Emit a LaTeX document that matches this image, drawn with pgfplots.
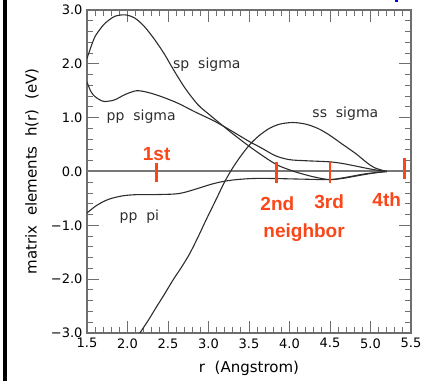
\documentclass[border=0pt]{standalone}
\usepackage{pgfplots}
\pgfplotsset{compat=1.18}
\usepackage{fontspec}
\setmainfont{DejaVu Sans}
\newfontfamily\labfont{Liberation Sans}
\definecolor{nbr}{RGB}{250,70,25}
\definecolor{curve}{RGB}{45,45,45}
\definecolor{frame}{RGB}{110,110,110}
\definecolor{zeroline}{RGB}{120,120,120}

\begin{document}
\begin{tikzpicture}
\useasboundingbox (0,0) rectangle (421bp,381bp);
\fill[black] (3bp,0) rectangle (6.5bp,381bp);
\fill[blue] (395bp,379bp) rectangle (398bp,381bp);
\begin{axis}[
  at={(87bp,48bp)}, anchor=south west,
  scale only axis, width=324bp, height=323bp,
  xmin=1.5, xmax=5.5, ymin=-3, ymax=3,
  xtick={1.5,2.0,2.5,3.0,3.5,4.0,4.5,5.0,5.5},
  xticklabels={1.5,2.0,2.5,3.0,3.5,4.0,4.5,5.0,5.5},
  ytick={-3,-2,-1,0,1,2,3},
  yticklabels={−3.0,−2.0,−1.0,0.0,1.0,2.0,3.0},
  minor x tick num=4, minor y tick num=4,
  tick align=inside,
  major tick length=12bp, minor tick length=6bp,
  tick style={frame, line width=1bp},
  axis line style={frame, line width=1.2bp},
  ticklabel style={font=\fontsize{13bp}{15bp}\selectfont},
  xticklabel style={yshift=-2bp},
  yticklabel style={xshift=-1bp},
  label style={font=\fontsize{15bp}{17bp}\selectfont},
  xlabel={r\ \ (Angstrom)},
  ylabel={matrix\ \ elements\ \ h(r)\ \ (eV)},
  xlabel style={at={(axis description cs:0.5,-0.108)}, anchor=center},
  ylabel style={at={(axis description cs:-0.170,0.5)}, anchor=center},
  clip=true,
]
% zero line
\addplot[zeroline, line width=2bp] coordinates {(1.5,0) (5.5,0)};

% sp sigma
\addplot[curve, line width=1.1bp, smooth] coordinates {
(1.50,2.10) (1.55,2.32) (1.60,2.51) (1.66,2.64) (1.72,2.75) (1.84,2.88)
(1.97,2.91) (2.09,2.85) (2.21,2.69) (2.34,2.44) (2.46,2.17) (2.56,1.91)
(2.71,1.55) (2.87,1.24) (3.00,1.07) (3.12,0.92) (3.30,0.70) (3.51,0.46)
(3.70,0.26) (3.85,0.12) (4.00,0.03) (4.10,-0.02) (4.30,-0.10) (4.49,-0.15)
(4.65,-0.13) (4.80,-0.09) (4.95,-0.05) (5.08,-0.02) (5.20,0.00)};

% pp sigma
\addplot[curve, line width=1.1bp, smooth] coordinates {
(1.50,1.66) (1.55,1.48) (1.60,1.39) (1.66,1.33) (1.72,1.30) (1.84,1.33)
(1.97,1.43) (2.11,1.50) (2.25,1.47) (2.42,1.39) (2.62,1.27) (2.83,1.11)
(3.08,0.93) (3.30,0.74) (3.50,0.56) (3.65,0.44) (3.83,0.29) (4.00,0.22)
(4.20,0.20) (4.49,0.18) (4.65,0.15) (4.82,0.10) (5.02,0.04) (5.20,0.00)};

% ss sigma
\addplot[curve, line width=1.1bp, smooth] coordinates {
(2.13,-3.05) (2.25,-2.78) (2.36,-2.51) (2.46,-2.27) (2.56,-2.02) (2.67,-1.77)
(2.77,-1.52) (2.87,-1.22) (2.97,-0.90) (3.10,-0.50) (3.20,-0.19) (3.30,0.07)
(3.40,0.29) (3.51,0.50) (3.62,0.66) (3.75,0.80) (3.88,0.88) (4.04,0.91)
(4.20,0.88) (4.35,0.80) (4.49,0.68) (4.65,0.51) (4.82,0.33) (4.95,0.17)
(5.05,0.07) (5.20,0.00)};

% pp pi
\addplot[curve, line width=1.1bp, smooth] coordinates {
(1.50,-0.77) (1.60,-0.65) (1.70,-0.56) (1.80,-0.50) (1.95,-0.45) (2.11,-0.43)
(2.30,-0.43) (2.56,-0.42) (2.67,-0.40) (2.77,-0.36) (2.90,-0.30) (3.05,-0.23)
(3.20,-0.18) (3.35,-0.15) (3.55,-0.13) (3.80,-0.13) (4.10,-0.14) (4.49,-0.15)
(4.65,-0.12) (4.80,-0.08) (4.95,-0.04) (5.20,0.00)};

% neighbour markers
\addplot[nbr, line width=2.6bp] coordinates {(2.36,-0.20) (2.36,0.16)};
\addplot[nbr, line width=2.6bp] coordinates {(3.84,-0.21) (3.84,0.18)};
\addplot[nbr, line width=2.6bp] coordinates {(4.50,-0.21) (4.50,0.18)};
\addplot[nbr, line width=2.6bp] coordinates {(5.42,-0.14) (5.42,0.25)};

% curve labels
\node[anchor=west, text=curve, font=\fontsize{14bp}{16bp}\selectfont] at (axis cs:2.52,1.99) {sp\ \ sigma};
\node[anchor=west, text=curve, font=\fontsize{14bp}{16bp}\selectfont] at (axis cs:1.70,1.02) {pp\ \ sigma};
\node[anchor=west, text=curve, font=\fontsize{14bp}{16bp}\selectfont] at (axis cs:4.24,1.08) {ss\ \ sigma};
\node[anchor=west, text=curve, font=\fontsize{14bp}{16bp}\selectfont] at (axis cs:1.86,-0.84) {pp\ \ pi};

% neighbour labels
\node[text=nbr, font=\labfont\bfseries\fontsize{19bp}{22bp}\selectfont] at (axis cs:2.36,0.33) {1st};
\node[text=nbr, font=\labfont\bfseries\fontsize{19bp}{22bp}\selectfont] at (axis cs:3.85,-0.59) {2nd};
\node[text=nbr, font=\labfont\bfseries\fontsize{19bp}{22bp}\selectfont] at (axis cs:4.49,-0.57) {3rd};
\node[text=nbr, font=\labfont\bfseries\fontsize{19bp}{22bp}\selectfont] at (axis cs:5.20,-0.53) {4th};
\node[text=nbr, font=\labfont\bfseries\fontsize{19bp}{22bp}\selectfont] at (axis cs:4.18,-1.13) {neighbor};
\end{axis}
\end{tikzpicture}
\end{document}
